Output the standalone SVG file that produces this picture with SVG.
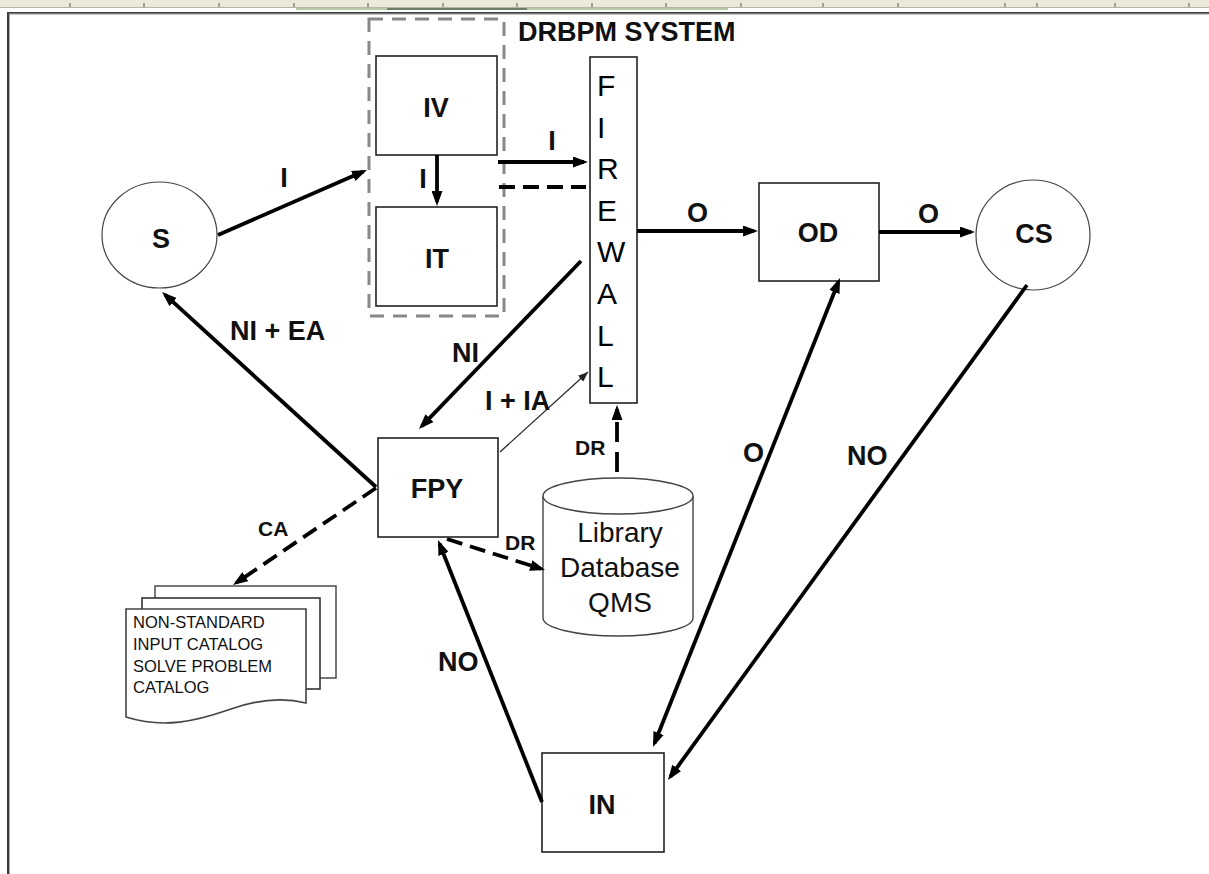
<svg xmlns="http://www.w3.org/2000/svg" width="1209" height="874" viewBox="0 0 1209 874">
<defs>
<style>
.box{fill:#fff;stroke:#222;stroke-width:1.6}
.circ{fill:#fff;stroke:#444;stroke-width:1.2}
.lbl{font-family:"Liberation Sans",Arial,sans-serif;font-weight:bold;font-size:27px;fill:#111}
.sm{font-family:"Liberation Sans",Arial,sans-serif;font-weight:bold;font-size:21px;fill:#111}
.fw{font-family:"Liberation Sans",Arial,sans-serif;font-size:30px;fill:#000}
.db{font-family:"Liberation Sans",Arial,sans-serif;font-size:28px;fill:#111;text-anchor:middle}
.doc{font-family:"Liberation Sans",Arial,sans-serif;font-size:16.5px;fill:#111}
.c{text-anchor:middle}
.e{fill:none;stroke:#000;stroke-width:3.8}
.d{stroke-dasharray:16 8}
.thin{fill:none;stroke:#222;stroke-width:1.2}
.tick{stroke:#8c8a7a;stroke-width:1.5}
</style>
<marker id="ah" viewBox="0 0 15 11" refX="11" refY="5.5" markerWidth="15" markerHeight="11" markerUnits="userSpaceOnUse" orient="auto-start-reverse">
<path d="M0,0 L15,5.5 L0,11 z" fill="#000"/>
</marker>
<marker id="ahs" viewBox="0 0 10 8" refX="10" refY="4" markerWidth="10" markerHeight="8" markerUnits="userSpaceOnUse" orient="auto">
<path d="M0,0 L10,4 L0,8 z" fill="#222"/>
</marker>
</defs>

<g id="frame">
<rect x="0" y="0" width="1209" height="8" fill="#ece9d8"/>
<line x1="0" y1="7.5" x2="1209" y2="7.5" stroke="#b8b5a2" stroke-width="1"/>
<g class="tick">
<line x1="70" y1="3" x2="70" y2="7"/><line x1="144" y1="3" x2="144" y2="7"/><line x1="219" y1="3" x2="219" y2="7"/><line x1="294" y1="3" x2="294" y2="7"/><line x1="368" y1="3" x2="368" y2="7"/><line x1="443" y1="3" x2="443" y2="7"/><line x1="517" y1="3" x2="517" y2="7"/><line x1="592" y1="3" x2="592" y2="7"/><line x1="666" y1="3" x2="666" y2="7"/><line x1="741" y1="3" x2="741" y2="7"/><line x1="823" y1="3" x2="823" y2="7"/><line x1="898" y1="3" x2="898" y2="7"/><line x1="1005" y1="3" x2="1005" y2="7"/><line x1="1037" y1="3" x2="1037" y2="7"/><line x1="1115" y1="3" x2="1115" y2="7"/><line x1="1189" y1="3" x2="1189" y2="7"/>
</g>
<rect x="296" y="8" width="432" height="2" fill="#b9c9a6"/>
<rect x="387" y="8" width="140" height="2" fill="#6f7d66"/>
<line x1="7" y1="12.8" x2="1209" y2="12.8" stroke="#3a3a3a" stroke-width="1.8"/>
<line x1="7" y1="14.2" x2="1209" y2="14.2" stroke="#a8a8a8" stroke-width="1"/>
<line x1="8" y1="12" x2="8" y2="874" stroke="#3a3a3a" stroke-width="2"/>
<line x1="9.5" y1="14" x2="9.5" y2="874" stroke="#a8a8a8" stroke-width="1"/>
</g>

<g id="title"><text class="lbl" x="518" y="41">DRBPM SYSTEM</text></g>

<g id="group-box"><rect x="369" y="19" width="135" height="297" fill="none" stroke="#888" stroke-width="3" stroke-dasharray="14 9"/></g>

<g id="node-IV"><rect class="box" x="376" y="56" width="121" height="99"/><text class="lbl c" x="436" y="117">IV</text></g>
<g id="node-IT"><rect class="box" x="376" y="207" width="121" height="99"/><text class="lbl c" x="437" y="268">IT</text></g>

<g id="node-FIREWALL">
<rect class="box" x="590" y="57" width="47" height="346"/>
<text class="fw" x="597" y="96">F</text>
<text class="fw" x="597" y="137.6">I</text>
<text class="fw" x="597" y="179.2">R</text>
<text class="fw" x="597" y="220.8">E</text>
<text class="fw" x="597" y="262.4">W</text>
<text class="fw" x="597" y="304">A</text>
<text class="fw" x="597" y="345.6">L</text>
<text class="fw" x="597" y="387.2">L</text>
</g>

<g id="node-S"><ellipse class="circ" cx="159.5" cy="235" rx="57.5" ry="53"/><text class="lbl c" x="161" y="248">S</text></g>
<g id="node-OD"><rect class="box" x="759" y="183" width="120" height="98"/><text class="lbl c" x="818" y="242">OD</text></g>
<g id="node-CS"><ellipse class="circ" cx="1033" cy="235" rx="57" ry="55"/><text class="lbl c" x="1034" y="243">CS</text></g>
<g id="node-FPY"><rect class="box" x="378" y="438" width="120" height="99"/><text class="lbl c" x="437" y="498">FPY</text></g>
<g id="node-IN"><rect class="box" x="542" y="753" width="122" height="99"/><text class="lbl c" x="602" y="814">IN</text></g>

<g id="node-DB">
<path d="M543,496 V618 A75,18 0 0 0 693,618 V496" fill="#fff" stroke="#444" stroke-width="1.4"/>
<ellipse cx="618" cy="496" rx="75" ry="18" fill="#fff" stroke="#444" stroke-width="1.4"/>
<text class="db" x="620" y="542">Library</text>
<text class="db" x="620" y="577">Database</text>
<text class="db" x="620" y="612">QMS</text>
</g>

<g id="node-DOC">
<rect x="155" y="586" width="181" height="92" fill="#fff" stroke="#555" stroke-width="1.6"/>
<rect x="142" y="598" width="178" height="91" fill="#fff" stroke="#333" stroke-width="1.6"/>
<path d="M126,609 H306 V703 C282,697 258,699 228,710 C196,721 164,729 126,717 Z" fill="#fff" stroke="#444" stroke-width="1.6"/>
<text class="doc" x="133" y="628">NON-STANDARD</text>
<text class="doc" x="133" y="650">INPUT CATALOG</text>
<text class="doc" x="133" y="672">SOLVE PROBLEM</text>
<text class="doc" x="133" y="693">CATALOG</text>
</g>

<g id="connectors">
<line class="e" x1="218" y1="235" x2="363.3" y2="171.6" marker-end="url(#ah)"/>
<line class="e" x1="498" y1="162" x2="584" y2="162" marker-end="url(#ah)"/>
<line class="e" x1="437" y1="155" x2="437" y2="202" marker-end="url(#ah)"/>
<line class="e d" x1="499" y1="187" x2="586" y2="187"/>
<line class="e" x1="637" y1="231" x2="754" y2="231" marker-end="url(#ah)"/>
<line class="e" x1="879" y1="232" x2="971" y2="232" marker-end="url(#ah)"/>
<line class="e" x1="581" y1="261" x2="421.8" y2="426.1" marker-end="url(#ah)"/>
<line class="thin" x1="500" y1="452" x2="588" y2="372" marker-end="url(#ahs)"/>
<line class="e" x1="376" y1="487" x2="165" y2="294.7" marker-end="url(#ah)"/>
<line class="e d" x1="376" y1="488" x2="236.3" y2="582.8" marker-end="url(#ah)"/>
<line class="e d" x1="617" y1="472" x2="617" y2="409" marker-end="url(#ah)" style="stroke-dasharray:20 10"/>
<line class="e d" x1="447" y1="539" x2="541.2" y2="568.8" marker-end="url(#ah)"/>
<line class="e" x1="542" y1="802" x2="439.5" y2="543.7" marker-end="url(#ah)"/>
<line class="e" x1="654.5" y1="743.3" x2="838.5" y2="281.7" marker-start="url(#ah)" marker-end="url(#ah)"/>
<line class="e" x1="1027" y1="285" x2="670.3" y2="776.8" marker-end="url(#ah)"/>
</g>

<g id="edge-labels">
<text class="lbl c" x="284" y="187">I</text>
<text class="lbl c" x="552" y="150">I</text>
<text class="lbl c" x="423" y="188">I</text>
<text class="lbl" x="687" y="222">O</text>
<text class="lbl" x="918" y="223">O</text>
<text class="lbl" x="230" y="340">NI + EA</text>
<text class="lbl" x="452" y="362">NI</text>
<text class="lbl" x="485" y="410">I + IA</text>
<text class="sm" x="575" y="455">DR</text>
<text class="sm" x="505" y="550">DR</text>
<text class="sm" x="258" y="536">CA</text>
<text class="lbl" x="438" y="671">NO</text>
<text class="lbl" x="743" y="462">O</text>
<text class="lbl" x="847" y="465">NO</text>
</g>
</svg>
